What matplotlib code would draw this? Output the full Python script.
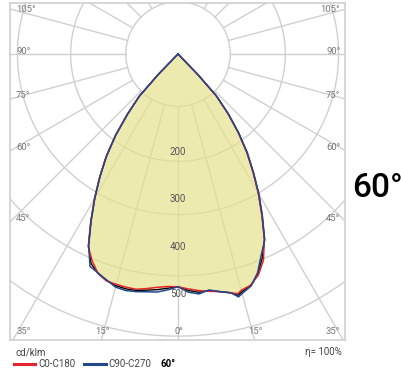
import numpy as np
import matplotlib.pyplot as plt
from matplotlib.lines import Line2D

plt.rcParams['font.family'] = ['Roboto', 'DejaVu Sans']

# luminous intensity, cd/klm, angle from nadir in degrees (neg = left half)
angles = [-46, -44, -42.5, -40, -37.5, -35, -32.5, -30, -27.5, -25, -22.5, -20,
          -17.5, -15, -12.5, -10, -7.5, -5, -2.5, 0, 2.5, 5, 7.5, 10, 12.5, 14,
          15, 17.5, 20, 22.5, 25, 27.5, 30, 32.5, 35, 37.5, 40, 42.5, 44, 46]
c0_c180 = [0, 62, 122, 167, 217, 264, 307, 352, 398, 447, 472, 492,
           501, 502, 503, 503, 498, 493, 490, 490, 495, 500, 504, 508, 515, 520,
           515, 510, 495, 470, 430, 382, 338, 293, 252, 208, 163, 118, 58, 0]
c90_c270 = [0, 60, 120, 165, 215, 262, 305, 350, 396, 445, 484, 491,
            499, 508, 510, 508, 505, 503, 497, 490, 502, 507, 501, 508, 515, 527,
            522, 512, 490, 458, 432, 385, 341, 296, 255, 211, 166, 121, 61, 0]

ring_radii = [110, 226, 338, 467, 594]
scale_labels = [200, 300, 400, 500]
side_angles = [105, 90, 75, 60, 45]

th = np.radians(angles)
red = np.array(c0_c180)
blue = np.array(c90_c270)
mean = (red + blue) / 2

fig = plt.figure(figsize=(4.02, 3.76), dpi=100)
ax = fig.add_axes([10/402, 36/376, 335/402, 337/376])
ax.set_xlim(-353.7, 351.6)
ax.set_ylim(-602.1, 107.4)
ax.set_xticks([])
ax.set_yticks([])
for s in ax.spines.values():
    s.set_color('#cfcfcf')
    s.set_linewidth(1.2)

grid_c = '#d0d0d0'
t = np.linspace(0, 2*np.pi, 400)
for r in ring_radii:
    ax.plot(r*np.sin(t), r*np.cos(t), color=grid_c, lw=1.0, zorder=1)
for a in range(-180, 181, 15):
    ar = np.radians(a)
    ax.plot([110*np.sin(ar), 1200*np.sin(ar)], [-110*np.cos(ar), -1200*np.cos(ar)],
            color=grid_c, lw=1.0, zorder=1)

# curves
ax.fill(mean*np.sin(th), -mean*np.cos(th), color='#E7E290', alpha=0.72, zorder=2, lw=0)
ax.plot(mean*np.sin(th), -mean*np.cos(th), color='black', lw=1.0, zorder=3)
ax.plot(red*np.sin(th), -red*np.cos(th), color='#e3262b', lw=1.1, zorder=4)
ax.plot(blue*np.sin(th), -blue*np.cos(th), color='#21478f', lw=1.1, zorder=5)

lab_c = '#777777'
for v in scale_labels:
    ax.text(0, -v - 6, str(v), ha='center', va='center', fontsize=7, color='#555555', zorder=6)

x0, x1 = ax.get_xlim()
y0, y1 = ax.get_ylim()
for a in side_angles:
    yi = x1 / np.tan(np.radians(a)) if a != 90 else 0
    yi = min(-yi, y1 - 20) + 6
    ax.text(x0 + 13, yi, f'{a}°', ha='left', va='center', fontsize=6.8, color=lab_c)
    ax.text(x1 - 10, yi, f'{a}°', ha='right', va='center', fontsize=6.8, color=lab_c)

yb = y0 + 18
ax.text(x0 + 13, yb, '35°', ha='left', va='center', fontsize=6.8, color=lab_c)
ax.text(x1 - 10, yb, '35°', ha='right', va='center', fontsize=6.8, color=lab_c)
for a in [-15, 0, 15]:
    xb = y0 * np.tan(np.radians(a))
    ax.text(-xb + 2, yb, f'{abs(a)}°', ha='center', va='center', fontsize=6.8, color=lab_c)

# footer
fig.text(16/402, 1 - 352/376, 'cd/klm', fontsize=7, color='#444444', va='center')
fig.text(342/402, 1 - 352/376, 'η= 100%', fontsize=7, color='#444444', va='center', ha='right')
fig.add_artist(Line2D([14/402, 35/402], [1 - 364/376]*2, color='#e3262b', lw=2.2))
fig.text(38/402, 1 - 364/376, 'C0-C180', fontsize=7, color='#444444', va='center')
fig.add_artist(Line2D([84/402, 106/402], [1 - 364/376]*2, color='#21478f', lw=2.2))
fig.text(108/402, 1 - 364/376, 'C90-C270', fontsize=7, color='#444444', va='center')
fig.text(161/402, 1 - 364/376, '60°', fontsize=7, color='black', va='center', fontweight='bold')

fig.text(352/402, 1 - 188/376, '60°', fontsize=24, color='black', va='center', ha='left',
         fontweight='medium')

fig.savefig('out.png', dpi=100)
